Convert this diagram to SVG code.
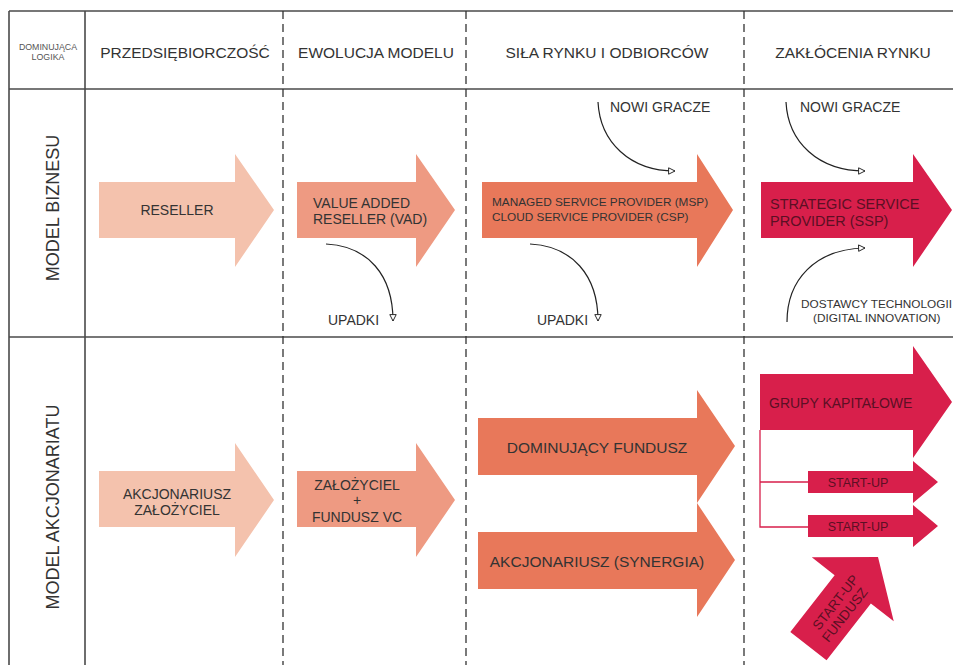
<svg xmlns="http://www.w3.org/2000/svg" width="953" height="665" viewBox="0 0 953 665">
<defs>
<style>
text{font-family:"Liberation Sans",Arial,sans-serif;fill:#333;}
.hdr{font-size:15.5px;text-anchor:middle;}
.row{font-size:18px;text-anchor:middle;}
.lbl{font-size:14px;}
.big{font-size:15.5px;}
.sm{font-size:11.8px;}
.cur{font-size:14px;}
.su{font-size:12.5px;}
.grid{stroke:#4a4a4a;stroke-width:1.6;fill:none;}
.dash{stroke:#333;stroke-width:1.3;stroke-dasharray:8,5;fill:none;}
.c1{fill:#F4C2AD;}
.c2{fill:#EE9A82;}
.c3{fill:#E8785A;}
.c4{fill:#D81F4B;}
.dk{fill:#5c0f24;}
.curve{stroke:#222;stroke-width:1.2;fill:none;marker-end:url(#open);}
.link{stroke:#D81F4B;stroke-width:1.3;fill:none;}
</style>
<marker id="open" viewBox="0 0 10 10" refX="9" refY="5" markerWidth="9" markerHeight="8" markerUnits="userSpaceOnUse" orient="auto">
<path d="M1,1 L9,5 L1,9 Z" fill="#fff" stroke="#222" stroke-width="1.2"/>
</marker>
</defs>
<rect width="953" height="665" fill="#fff"/>

<g id="grid">
<line class="grid" x1="9" y1="11" x2="953" y2="11"/>
<line class="grid" x1="9" y1="89" x2="953" y2="89"/>
<line class="grid" x1="9" y1="337" x2="953" y2="337"/>
<line class="grid" x1="9" y1="11" x2="9" y2="665"/>
<line class="grid" x1="85" y1="11" x2="85" y2="665"/>
<line class="dash" x1="283" y1="11" x2="283" y2="665"/>
<line class="dash" x1="466" y1="11" x2="466" y2="665"/>
<line class="dash" x1="744" y1="11" x2="744" y2="665"/>
</g>

<g id="headers">
<text x="48" y="50" style="font-size:8.8px;text-anchor:middle;fill:#555">DOMINUJĄCA</text>
<text x="48" y="60" style="font-size:8.8px;text-anchor:middle;fill:#555">LOGIKA</text>
<text class="hdr" x="185" y="57.5">PRZEDSIĘBIORCZOŚĆ</text>
<text class="hdr" x="376" y="57.5">EWOLUCJA MODELU</text>
<text class="hdr" x="607" y="57.5">SIŁA RYNKU I ODBIORCÓW</text>
<text class="hdr" x="853" y="57.5">ZAKŁÓCENIA RYNKU</text>
<text class="row" transform="translate(58.5,208) rotate(-90)">MODEL BIZNESU</text>
<text class="row" transform="translate(58.5,507) rotate(-90)">MODEL AKCJONARIATU</text>
</g>

<g id="connectors">
<path class="curve" d="M326,244 C368,246 393,275 393,321"/>
<path class="curve" d="M530,244 C572,246 598,275 598,321"/>
<path class="curve" d="M598,102 C600,142 630,171 675,171"/>
<path class="curve" d="M786,102 C788,142 818,171 865,171"/>
<path class="curve" d="M787,322 C787,280 815,249 865,248"/>
<path class="link" d="M760,430 L760,527 L808,527 M760,482 L808,482"/>
</g>

<g id="reseller">
<polygon class="c1" points="99,182 235,182 235,154 274,210 235,267 235,238 99,238"/>
<text class="lbl" x="177" y="215" text-anchor="middle">RESELLER</text>
</g>
<g id="vad">
<polygon class="c2" points="297,182 416,182 416,154 455,210 416,267 416,238 297,238"/>
<text class="lbl" x="313" y="208">VALUE ADDED</text>
<text class="lbl" x="313" y="224">RESELLER (VAD)</text>
</g>
<g id="msp">
<polygon class="c3" points="482,182 697,182 697,154 733,210 697,267 697,238 482,238"/>
<text class="sm" x="492" y="206">MANAGED SERVICE PROVIDER (MSP)</text>
<text class="sm" x="492" y="220.5">CLOUD SERVICE PROVIDER (CSP)</text>
</g>
<g id="ssp">
<polygon class="c4" points="761,182 913,182 913,154 952,210 913,267 913,238 761,238"/>
<text class="lbl dk" x="770" y="209" style="font-size:14.5px">STRATEGIC SERVICE</text>
<text class="lbl dk" x="770" y="225.5" style="font-size:14.5px">PROVIDER (SSP)</text>
</g>

<g id="curve-labels">
<text class="cur" x="328" y="325">UPADKI</text>
<text class="cur" x="537" y="325">UPADKI</text>
<text class="cur" x="610" y="112">NOWI GRACZE</text>
<text class="cur" x="800" y="112">NOWI GRACZE</text>
<text class="sm" x="801" y="308">DOSTAWCY TECHNOLOGII</text>
<text class="sm" x="813" y="322">(DIGITAL INNOVATION)</text>
</g>

<g id="akcjonariusz-zalozyciel">
<polygon class="c1" points="99,471 235,471 235,443 274,500 235,557 235,527 99,527"/>
<text class="lbl" x="177" y="499" text-anchor="middle">AKCJONARIUSZ</text>
<text class="lbl" x="177" y="515" text-anchor="middle">ZAŁOŻYCIEL</text>
</g>
<g id="zalozyciel-vc">
<polygon class="c2" points="297,471 416,471 416,443 455,500 416,557 416,527 297,527"/>
<text class="lbl" x="357" y="490" text-anchor="middle">ZAŁOŻYCIEL</text>
<text class="lbl" x="357" y="505" text-anchor="middle">+</text>
<text class="lbl" x="357" y="522" text-anchor="middle">FUNDUSZ VC</text>
</g>
<g id="dominujacy-fundusz">
<polygon class="c3" points="478,418 697,418 697,390 735,446 697,503 697,475 478,475"/>
<text class="big" x="597" y="453" text-anchor="middle">DOMINUJĄCY FUNDUSZ</text>
</g>
<g id="akcjonariusz-synergia">
<polygon class="c3" points="478,532 697,532 697,503 735,560 697,617 697,589 478,589"/>
<text class="big" x="597" y="567" text-anchor="middle">AKCJONARIUSZ (SYNERGIA)</text>
</g>
<g id="grupy-kapitalowe">
<polygon class="c4" points="760,374 913,374 913,346 952,402 913,458 913,430 760,430"/>
<text class="lbl dk" x="769" y="408">GRUPY KAPITAŁOWE</text>
</g>
<g id="start-up-1">
<polygon class="c4" points="808,471 913,471 913,461 938,482 913,503 913,493 808,493"/>
<text class="su dk" x="858" y="487" text-anchor="middle">START-UP</text>
</g>
<g id="start-up-2">
<polygon class="c4" points="808,515 913,515 913,505 938,526 913,547 913,537 808,537"/>
<text class="su dk" x="858" y="531" text-anchor="middle">START-UP</text>
</g>
<g id="start-up-fundusz" transform="translate(878,557) rotate(-52)">
<polygon class="c4" points="-113,-23 -41,-23 -41,-52 0,0 -41,52 -41,23 -113,23"/>
<text class="dk" x="-62" y="-1" text-anchor="middle" style="font-size:13.5px">START-UP</text>
<text class="dk" x="-66" y="14" text-anchor="middle" style="font-size:13.5px">FUNDUSZ</text>
</g>
</svg>
